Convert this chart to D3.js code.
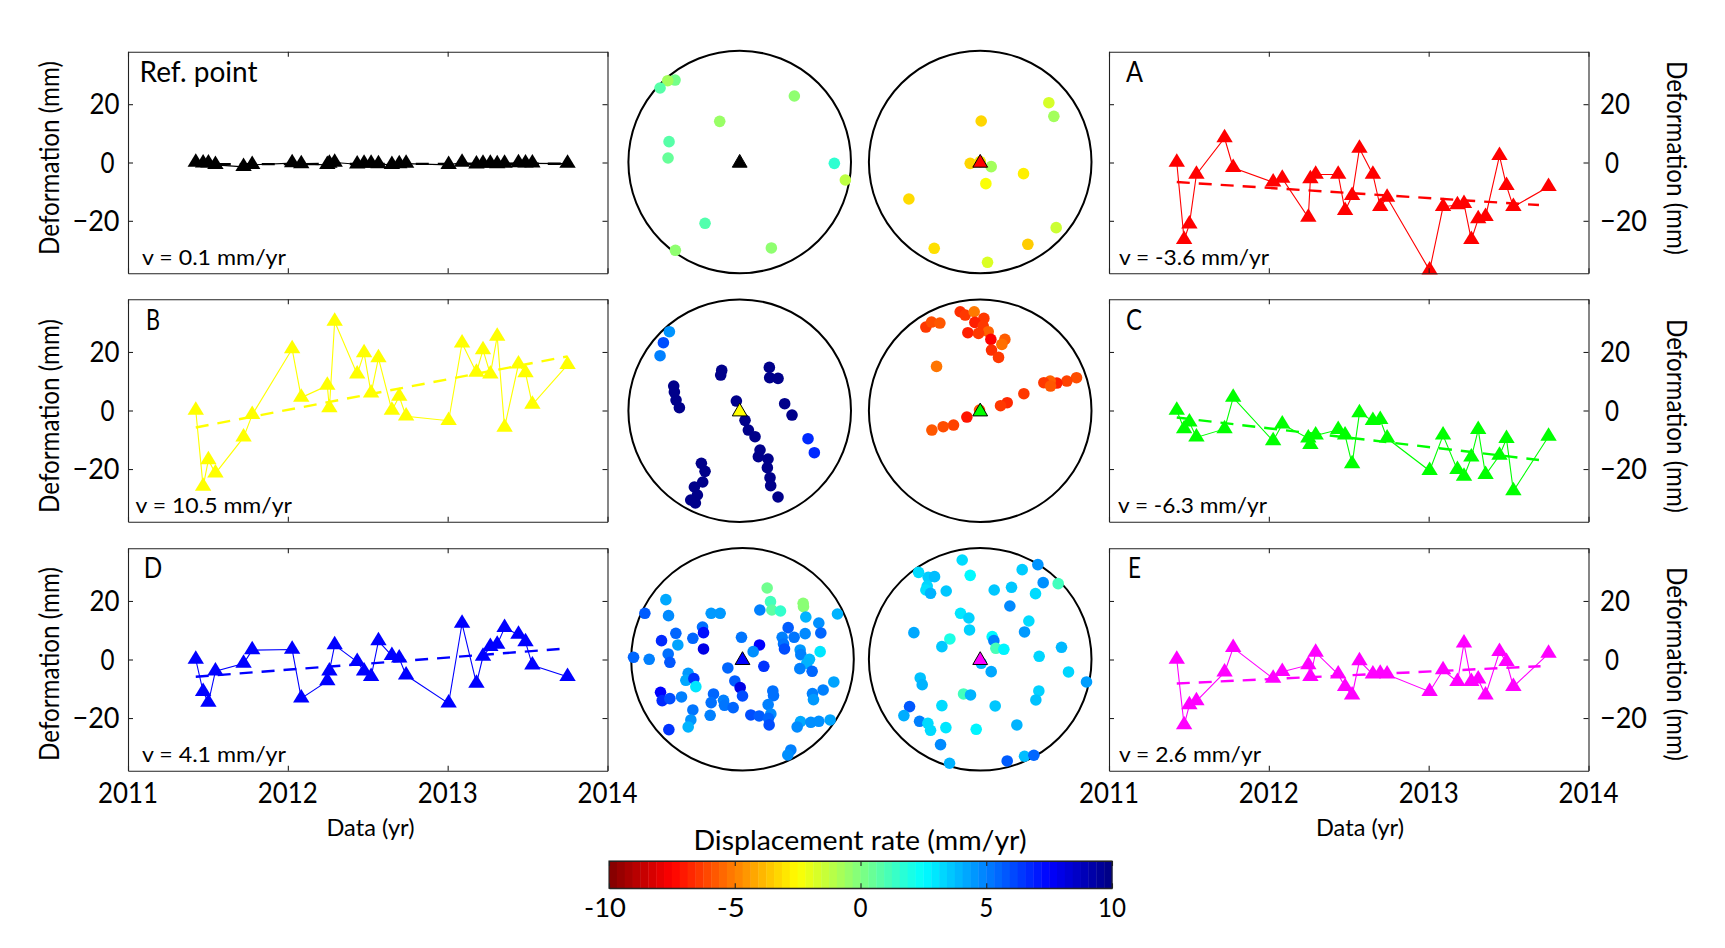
<!DOCTYPE html>
<html>
<head>
<meta charset="utf-8">
<title>Deformation time series</title>
<script src="https://cdn.jsdelivr.net/npm/d3@7"></script>
<style>
  html, body { margin: 0; padding: 0; background: #fff; }
  svg { display: block; }
  text { font-family: Lato, "Noto Sans", sans-serif; fill: #000; }
</style>
</head>
<body>
<div id="chart"></div>
<script>
// acquisition dates, shared by every time series
const epochs = [2011.424, 2011.470, 2011.503, 2011.547, 2011.723, 2011.777, 2012.027, 2012.084, 2012.247, 2012.260,
  2012.293, 2012.434, 2012.477, 2012.521, 2012.567, 2012.651, 2012.697, 2012.740, 2013.006, 2013.090,
  2013.180, 2013.221, 2013.267, 2013.310, 2013.356, 2013.443, 2013.487, 2013.530, 2013.750];

const refValues = [0, -0.3, -0.3, -0.8, -1.5, -0.8, -0.2, -0.5, -0.8, -0.4, 0, -0.6, -0.4, -0.4, -0.5, -0.8, -0.5, -0.4,
  -0.8, 0, -0.6, -0.4, -0.4, -0.5, -0.4, -0.2, -0.3, -0.3, -0.4];
const aValues = [0, -26.5, -21.2, -4.1, 8.4, -1.8, -6.8, -5.5, -18.9, -5.7, -4.1, -4.1, -16.6, -11.4, 4.8, -4.1, -15.2, -12,
  -37, -15.2, -14.6, -14.2, -26.5, -19.4, -18.6, 2.3, -8, -15.2, -8.3];
const bValues = [0, -26, -16.9, -21.5, -9.2, -1.5, 21, 4.4, 8.5, 0.8, 30.4, 12.4, 19.6, 5.9, 17.9, 0, 4.8, -2,
  -3.5, 23, 13, 20.7, 12.4, 25.3, -5.8, 15.8, 12.8, 2, 15.6];
const cValues = [0, -6.3, -4, -9.2, -6.3, 4.4, -10.4, -4.7, -9.5, -11.7, -8.5, -6.6, -8.5, -18.3, -0.9, -3.5, -3.2, -9.5,
  -20.6, -8.5, -20.3, -22.6, -16, -6.6, -22, -15.4, -9.7, -27.5, -8.9];
const dValues = [0, -11, -14.7, -4, -1.4, 3.2, 3.4, -13.3, -7.4, -4, 4.9, -0.8, -4, -5.9, 6.3, 1.3, 0.4, -5.4,
  -15, 12.3, -8.2, 1, 4.3, 5.1, 10.8, 8.5, 6, -2, -5.9];
const eValues = [0, -22.4, -15.6, -14.2, -4.4, 4, -6.5, -4.2, -1.9, -5.9, 2.4, -5.1, -9.3, -12.2, -0.5, -5.1, -4.8, -5.1,
  -11, -3.6, -7.6, 5.5, -7.6, -6.8, -12.2, 2.6, -0.8, -9.3, 2];

// linear trend, [start year, start value, end year, end value]
const refTrend = [2011.424, -0.6, 2013.75, -0.4];
const aTrend = [2011.424, -6.7, 2013.69, -14.6];
const bTrend = [2011.424, -5.8, 2013.75, 18.5];
const cTrend = [2011.424, -2.4, 2013.69, -16.9];
const dTrend = [2011.424, -5.9, 2013.70, 3.6];
const eTrend = [2011.424, -8.2, 2013.70, -2.3];

// map points: [east, north, rate in mm/yr]. East/north run -334..334 inside each circle
const mapRefWest = [[-194,246,0.2],[-216,244,-0.7],[-239,222,0.8],[164,198,-0.3],[-60,122,-0.5],[-212,61,0.8],[-215,12,0.5],
  [284,-4,1.6],[317,-54,-1.2],[-104,-184,0.9],[95,-258,-0.3],[-193,-265,-0.3]];
const mapRefEast = [[206,178,-1.7],[221,137,-0.7],[3,123,-3.3],[-30,-4,-3.3],[0,1,-3],[33,-14,-0.7],[130,-35,-2.8],
  [17,-65,-2.4],[-214,-111,-3.2],[228,-197,-1.5],[143,-247,-3.5],[-138,-259,-3.1],[22,-301,-1.8]];
const mapBWest = [[-211,237,4.6],[-229,204,6],[-239,165,5],[-54,121,9.8],[-57,107,9.8],[89,130,9.8],[90,99,9.8],[115,97,9.8],
  [-198,74,9.8],[-196,56,9.8],[-191,32,9.8],[-181,9,9.8],[-10,29,9.8],[135,21,9.8],[157,-13,9.8],[16,-29,9.8],[26,-58,9.8],
  [46,-78,9.8],[61,-118,9.8],[56,-138,9.8],[85,-145,9.8],[83,-171,9.8],[91,-201,9.8],[93,-225,9.8],[115,-259,9.8],
  [-115,-158,9.8],[-104,-182,9.8],[-111,-214,9.8],[-136,-229,9.8],[-127,-253,9.8],[-147,-268,9.8],[-133,-277,9.8],
  [205,-84,6.7],[224,-126,6.7]];
const mapBEast = [[-60,297,-6.6],[-45,287,-6.4],[-18,297,-5.1],[11,277,-6.4],[-16,265,-6.9],[9,254,-6.4],[24,237,-5.6],[-37,234,-6.9],
  [-5,232,-6.4],[32,214,-7.5],[74,214,-5.7],[65,199,-5.3],[34,182,-6.6],[55,160,-6.4],[-163,251,-6.4],[-146,266,-6],[-121,263,-5.8],
  [-131,133,-5.2],[289,99,-6],[260,89,-6.2],[230,83,-6.9],[210,89,-5.6],[191,84,-6.4],[211,74,-5.8],[131,51,-6.4],[81,24,-6.7],
  [61,15,-6.4],[-2,2,-5.8],[-40,-19,-7.1],[-80,-43,-6.2],[-111,-48,-6],[-145,-58,-5.8]];
const mapDWest = [[74,214,0.3],[84,173,1.2],[88,148,0.7],[114,145,1.5],[182,168,-0.2],[183,158,-0.2],[-230,179,4.2],[-293,138,5.7],
  [-222,131,4.8],[-94,138,4.5],[-67,138,4.5],[52,148,5],[190,127,4],[229,109,4.7],[285,136,4],[-120,97,5.3],[-117,80,7.2],
  [-200,78,5.5],[-149,63,5.5],[-243,56,6.7],[-194,43,4.3],[-117,31,8],[-3,66,5.2],[51,43,7.5],[32,23,4.7],[137,95,5.7],
  [119,66,5],[155,66,5.2],[188,77,4.8],[235,79,5.5],[123,46,5.2],[126,31,6],[173,28,4.5],[175,14,5],[233,23,3],[201,0,3.9],
  [193,-12,4],[172,-28,5],[209,-36,5.5],[-327,6,5.5],[-280,0,5],[-223,16,5.3],[-218,-9,5.8],[-44,-26,5.5],[64,-21,6.5],
  [-163,-42,4.5],[-170,-63,4.2],[-146,-58,6.5],[-140,-82,3],[-23,-65,5.7],[-7,-85,8],[-246,-99,7.5],[-241,-124,6.7],
  [-218,-118,6],[-183,-113,5],[-87,-104,5.5],[-94,-130,5.3],[-57,-123,5],[-54,-138,5.2],[-28,-145,5.5],[0,-110,6],
  [91,-95,5.3],[93,-109,5.3],[77,-136,5],[85,-164,4.8],[274,-68,4.3],[210,-103,5],[213,-121,4.5],[242,-92,5],
  [-149,-152,5.2],[-155,-182,4.6],[-163,-203,4],[-97,-168,5],[25,-167,6],[50,-170,5.7],[78,-177,5.5],[80,-197,6],
  [174,-187,4.2],[164,-203,4.8],[205,-189,4.7],[229,-186,4.7],[263,-182,4.3],[-221,-211,6.5],[145,-272,5],[136,-287,4.7]];
const mapDEast = [[-54,298,3.2],[-30,252,2.6],[-185,261,3.2],[-156,246,3.5],[-137,248,3.8],[-159,220,3.3],[-163,208,3.1],
  [-149,198,4],[-102,205,3.6],[42,208,3.6],[94,216,3.6],[126,269,3.5],[173,284,4.6],[189,230,4.7],[166,197,3.2],[234,227,1.2],
  [89,160,4.8],[-59,138,3],[-34,124,3.4],[-32,88,3.4],[146,115,3.2],[133,82,4.5],[-199,80,4.2],[-91,61,2],[-115,38,3.6],
  [36,68,2.6],[41,56,5],[47,33,1.1],[71,30,2.7],[244,36,3.9],[177,9,3.3],[265,-38,3.3],[319,-68,4.4],[3,-12,4],[33,-37,4.2],
  [-180,-56,3.7],[-174,-76,4],[-50,-104,1.2],[-29,-107,4],[176,-95,3.4],[167,-122,3.7],[-115,-139,3.2],[45,-140,3.6],
  [-212,-142,5.8],[-229,-169,4.1],[-182,-186,5],[-157,-192,3.2],[-149,-213,3.2],[-103,-205,3],[-12,-210,2.7],[110,-197,4],
  [-119,-256,4.8],[-92,-312,4],[81,-305,5.7],[133,-291,3.8],[161,-288,5.5]];

const yTicks = [-20, 0, 20];
const xTicks = [2011, 2012, 2013, 2014];
const barTicks = [-10, -5, 0, 5, 10];

const width = 1725, height = 948;
const svg = d3.select("#chart").append("svg").attr("width", width).attr("height", height);

const xLeftRange = [128, 607.5], xRightRange = [1109, 1588.5];
const rows = [[51.7, 273.3], [299.3, 521.7], [548.3, 770.7]];
const rowLabelY = [158, 416, 664];
const minus = v => String(v).replace("-", "\u2212");

// squeeze a label to the width it has in the figure
function label(str, x, y, size, w, opts) {
  const t = svg.append("text").attr("x", x).attr("y", y).attr("font-size", size).text(str);
  if (w) t.attr("textLength", w).attr("lengthAdjust", "spacingAndGlyphs");
  if (opts && opts.anchor) t.attr("text-anchor", opts.anchor);
  if (opts && opts.rotate) t.attr("transform", `rotate(${opts.rotate},${x},${y})`);
  return t;
}

function tidyAxis(g) {
  g.select(".domain").attr("stroke", "#222").attr("stroke-width", 1.1);
  g.selectAll(".tick line").attr("stroke", "#222").attr("stroke-width", 1.1);
  g.selectAll(".tick text").remove();
}

function seriesPanel(p) {
  const x = d3.scaleLinear().domain([2011, 2014]).range(p.xRange);
  const y = d3.scaleLinear().domain([-38, 38]).range([rows[p.row][1], rows[p.row][0]]);
  const g = svg.append("g");

  // solid line with the triangles, then the dashed fit
  const line = d3.line().x(d => x(d[0])).y(d => y(d[1]));
  const pts = epochs.map((t, i) => [t, p.values[i]]);
  g.append("path").attr("d", line(pts)).attr("fill", "none").attr("stroke", p.color).attr("stroke-width", 1.1);
  g.append("path").attr("d", line([[p.trend[0], p.trend[1]], [p.trend[2], p.trend[3]]]))
    .attr("fill", "none").attr("stroke", p.color).attr("stroke-width", 2.4).attr("stroke-dasharray", "13 9");
  g.selectAll(".mark").data(pts).enter().append("path")
    .attr("class", "mark")
    .attr("d", "M0,-9.3L8.2,4.2L-8.2,4.2Z")
    .attr("transform", d => `translate(${x(d[0])},${y(d[1])})`)
    .attr("fill", p.color);

  const [x0, x1] = p.xRange, [yTop, yBottom] = [rows[p.row][0], rows[p.row][1]];
  const tick = 5;
  g.append("g").attr("transform", `translate(0,${yBottom})`)
    .call(d3.axisBottom(x).tickValues(xTicks).tickSize(-tick).tickSizeOuter(0)).call(tidyAxis);
  g.append("g").attr("transform", `translate(0,${yTop})`)
    .call(d3.axisTop(x).tickValues(xTicks).tickSize(-tick).tickSizeOuter(0)).call(tidyAxis);
  g.append("g").attr("transform", `translate(${x0},0)`)
    .call(d3.axisLeft(y).tickValues(yTicks).tickSize(-tick).tickSizeOuter(0)).call(tidyAxis);
  g.append("g").attr("transform", `translate(${x1},0)`)
    .call(d3.axisRight(y).tickValues(yTicks).tickSize(-tick).tickSizeOuter(0)).call(tidyAxis);

  yTicks.forEach(v => {
    const base = y(v) + 10;
    if (p.side === "left") label(minus(v), v === 0 ? 114.5 : 119.5, base, 29, v === 0 ? 14 : (v < 0 ? 47 : 30), { anchor: "end" });
    else label(minus(v), v === 0 ? 1605 : 1600, base, 29, v === 0 ? 14 : (v < 0 ? 47 : 30));
  });

  if (p.side === "left") label("Deformation (mm)", 58.5, rowLabelY[p.row], 26, 194, { anchor: "middle", rotate: -90 });
  else label("Deformation (mm)", 1667, rowLabelY[p.row], 26, 194, { anchor: "middle", rotate: 90 });

  label(p.name, p.nameX, yTop + (p.row === 0 ? 30 : p.row === 1 ? 30.7 : 29.7), 28.5, p.nameW);
  label(p.speed, p.speedX, yBottom - 8.5, 22, p.speedW);

  if (p.row === 2) {
    xTicks.forEach(v => label(String(v), x(v), 803, 29, 60, { anchor: "middle" }));
    label("Data (yr)", p.side === "left" ? 370.5 : 1360, 836, 23, 88, { anchor: "middle" });
  }
}

const rateColor = d3.scaleLinear()
  .domain([-10, -7.5, -2.5, 2.5, 7.5, 10])
  .range(["#800000", "#ff0000", "#ffff00", "#00ffff", "#0000ff", "#000080"]);

function mapPanel(cx, cy, points, color) {
  const r = 111.3;
  const mx = d3.scaleLinear().domain([-334, 334]).range([cx - r, cx + r]);
  const my = d3.scaleLinear().domain([-334, 334]).range([cy + r, cy - r]);
  const g = svg.append("g");
  g.append("circle").attr("cx", cx).attr("cy", cy).attr("r", r)
    .attr("fill", "#fff").attr("stroke", "#000").attr("stroke-width", 2);
  g.selectAll(".dot").data(points).enter().append("circle")
    .attr("class", "dot")
    .attr("cx", d => mx(d[0])).attr("cy", d => my(d[1])).attr("r", 5.8)
    .attr("fill", d => rateColor(d[2]));
  g.append("path").attr("d", "M0,-7.6L7.4,5.2L-7.4,5.2Z")
    .attr("transform", `translate(${mx(0)},${my(0)})`)
    .attr("fill", color).attr("stroke", "#000").attr("stroke-width", 1).attr("stroke-linejoin", "miter");
}

seriesPanel({ row: 0, side: "left", xRange: xLeftRange, values: refValues, trend: refTrend, color: "#000000",
  name: "Ref. point", nameX: 139.5, nameW: 118, speed: "v = 0.1 mm/yr", speedX: 142, speedW: 144 });
seriesPanel({ row: 1, side: "left", xRange: xLeftRange, values: bValues, trend: bTrend, color: "#ffff00",
  name: "B", nameX: 146, nameW: 14, speed: "v = 10.5 mm/yr", speedX: 135.5, speedW: 156.5 });
seriesPanel({ row: 2, side: "left", xRange: xLeftRange, values: dValues, trend: dTrend, color: "#0000ff",
  name: "D", nameX: 143.7, nameW: 18.5, speed: "v = 4.1 mm/yr", speedX: 142, speedW: 144 });
seriesPanel({ row: 0, side: "right", xRange: xRightRange, values: aValues, trend: aTrend, color: "#ff0000",
  name: "A", nameX: 1126, nameW: 17, speed: "v = -3.6 mm/yr", speedX: 1119, speedW: 150 });
seriesPanel({ row: 1, side: "right", xRange: xRightRange, values: cValues, trend: cTrend, color: "#00ff00",
  name: "C", nameX: 1126, nameW: 16, speed: "v = -6.3 mm/yr", speedX: 1118, speedW: 149 });
seriesPanel({ row: 2, side: "right", xRange: xRightRange, values: eValues, trend: eTrend, color: "#ff00ff",
  name: "E", nameX: 1128, nameW: 13, speed: "v = 2.6 mm/yr", speedX: 1119, speedW: 142 });

mapPanel(739.7, 162, mapRefWest, "#000000");
mapPanel(980.2, 162, mapRefEast, "#ff0000");
mapPanel(739.7, 410.7, mapBWest, "#ffff00");
mapPanel(980.2, 410.7, mapBEast, "#00ff00");
mapPanel(742.5, 659.3, mapDWest, "#0000ff");
mapPanel(980.2, 659.3, mapDEast, "#ff00ff");

// colour bar, 64 bands like the colormap of the figure
const barX = d3.scaleLinear().domain([-10, 10]).range([609, 1112]);
const barTop = 861, barBottom = 888.3;
const bands = d3.range(64).map(i => -10 + 20 * i / 64);
svg.append("g").selectAll("rect").data(bands).enter().append("rect")
  .attr("x", d => barX(d)).attr("y", barTop)
  .attr("width", barX(-10 + 20 / 64) - barX(-10) + 0.4).attr("height", barBottom - barTop)
  .attr("fill", d => rateColor(d + 10 / 64));
svg.append("g").attr("transform", `translate(0,${barBottom})`)
  .call(d3.axisBottom(barX).tickValues(barTicks).tickSize(-5).tickSizeOuter(0)).call(tidyAxis);
svg.append("g").attr("transform", `translate(0,${barTop})`)
  .call(d3.axisTop(barX).tickValues(barTicks).tickSize(-5).tickSizeOuter(0)).call(tidyAxis);
svg.append("rect").attr("x", 609).attr("y", barTop).attr("width", 503).attr("height", barBottom - barTop)
  .attr("fill", "none").attr("stroke", "#222").attr("stroke-width", 1.1);
barTicks.forEach(v => {
  const s = String(v);
  label(s, barX(v) - (v < 0 ? 4 : 0), 917, 27.5, s.length * 14, { anchor: "middle" });
});
label("Displacement rate (mm/yr)", 860, 850, 27, 333, { anchor: "middle" });
</script>
</body>
</html>
